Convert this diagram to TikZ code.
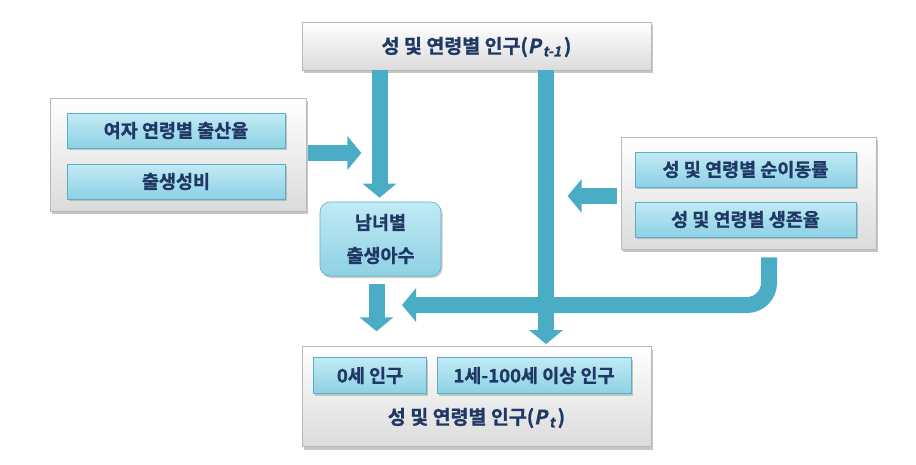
\documentclass[tikz,border=0pt]{standalone}
\usepackage{fontspec}
\setmainfont{Noto Sans CJK KR}[BoldFont={Noto Sans CJK KR Bold}, BoldFeatures={FakeBold=1.2}, ItalicFont={Noto Sans CJK KR}, ItalicFeatures={FakeSlant=0.2}, BoldItalicFont={Noto Sans CJK KR Bold}, BoldItalicFeatures={FakeSlant=0.2,FakeBold=1.2}]
\usetikzlibrary{arrows.meta,shadows}
\definecolor{arr}{HTML}{4BACC6}
\definecolor{txt}{HTML}{1F3864}
\definecolor{cyanT}{HTML}{C2EAF4}
\definecolor{cyanB}{HTML}{8DD1E4}
\definecolor{cyanE}{HTML}{5AAFC8}
\tikzset{
  outerbox/.style={draw=gray!55, line width=0.8pt, top color=white, bottom color=gray!28,
    drop shadow={shadow xshift=2pt, shadow yshift=-3pt, opacity=0.45, fill=gray},
    inner sep=0pt},
  innerbox/.style={draw=cyanE, line width=0.6pt, top color=cyanT, bottom color=cyanB,
    drop shadow={shadow xshift=1.5pt, shadow yshift=-2pt, opacity=0.4, fill=gray},
    inner sep=0pt, text=txt, font=\fontsize{18.5}{21}\selectfont\bfseries},
  titletext/.style={text=txt, font=\fontsize{19.5}{22}\selectfont\bfseries, inner sep=0pt},
  bigarrow/.style={draw=arr, line width=16pt, -{Triangle[width=33pt,length=14pt]}},
}
\begin{document}
\begin{tikzpicture}[x=1pt,y=-1pt]
\useasboundingbox (0,0) rectangle (916,464);
% boxes
\node[outerbox, minimum width=349pt, minimum height=48pt] (top) at (476.5,46) {};
\node[titletext] (toptxt) at (476.5,47) {성 및 연령별 인구(\textit{P}\kern2pt\textsubscript{\textit{t-1}\,})};

\node[outerbox, minimum width=256pt, minimum height=113pt] (lbox) at (178,154.5) {};
\node[innerbox, minimum width=218pt, minimum height=35pt] (l1) at (176,130.5) {여자 연령별 출산율};
\node[innerbox, minimum width=218pt, minimum height=35pt] (l2) at (176,181.5) {출생성비};

\node[outerbox, minimum width=255pt, minimum height=112pt] (rbox) at (748.5,193) {};
\node[innerbox, minimum width=221pt, minimum height=35pt] (r1) at (745.5,169.5) {성 및 연령별 순이동률};
\node[innerbox, minimum width=221pt, minimum height=35pt] (r2) at (745.5,219.5) {성 및 연령별 생존율};

\node[innerbox, rounded corners=10pt, minimum width=121pt, minimum height=74pt, align=center,
      font=\fontsize{18.5}{33}\selectfont\bfseries] (mid) at (380.5,239) {남녀별\\출생아수};

\node[outerbox, minimum width=349pt, minimum height=100pt] (bot) at (476.5,396.5) {};
\node[innerbox, minimum width=113pt, minimum height=36pt] (b1) at (370,375.5) {0세 인구};
\node[innerbox, minimum width=194pt, minimum height=36pt] (b2) at (534,375.5) {1세-100세 이상 인구};
\node[titletext] (bottxt) at (476.5,418) {성 및 연령별 인구(\textit{P}\kern2pt\textsubscript{\textit{t}\,})};

% arrows
\coordinate (ctip) at (402,305);
\draw[bigarrow, rounded corners=22pt] ([xshift=20.5pt,yshift=-8pt]rbox.south) |- (ctip);
\draw[bigarrow] ([xshift=-97pt]top.south) -- ([xshift=-1pt,yshift=4pt]mid.north);
\draw[bigarrow] ([xshift=69.5pt]top.south) -- ([xshift=69.5pt,yshift=2pt]bot.north);
\draw[bigarrow] ([xshift=2pt,yshift=1.5pt]lbox.east) -- ++(53pt,0);
\draw[bigarrow] ([xshift=-4pt,yshift=-3pt]rbox.west) -- ++(-49pt,0);
\draw[bigarrow] ([xshift=-4pt,yshift=-8pt]mid.south) -- ([xshift=-4pt,yshift=-55pt]mid.south);
\end{tikzpicture}
\end{document}
